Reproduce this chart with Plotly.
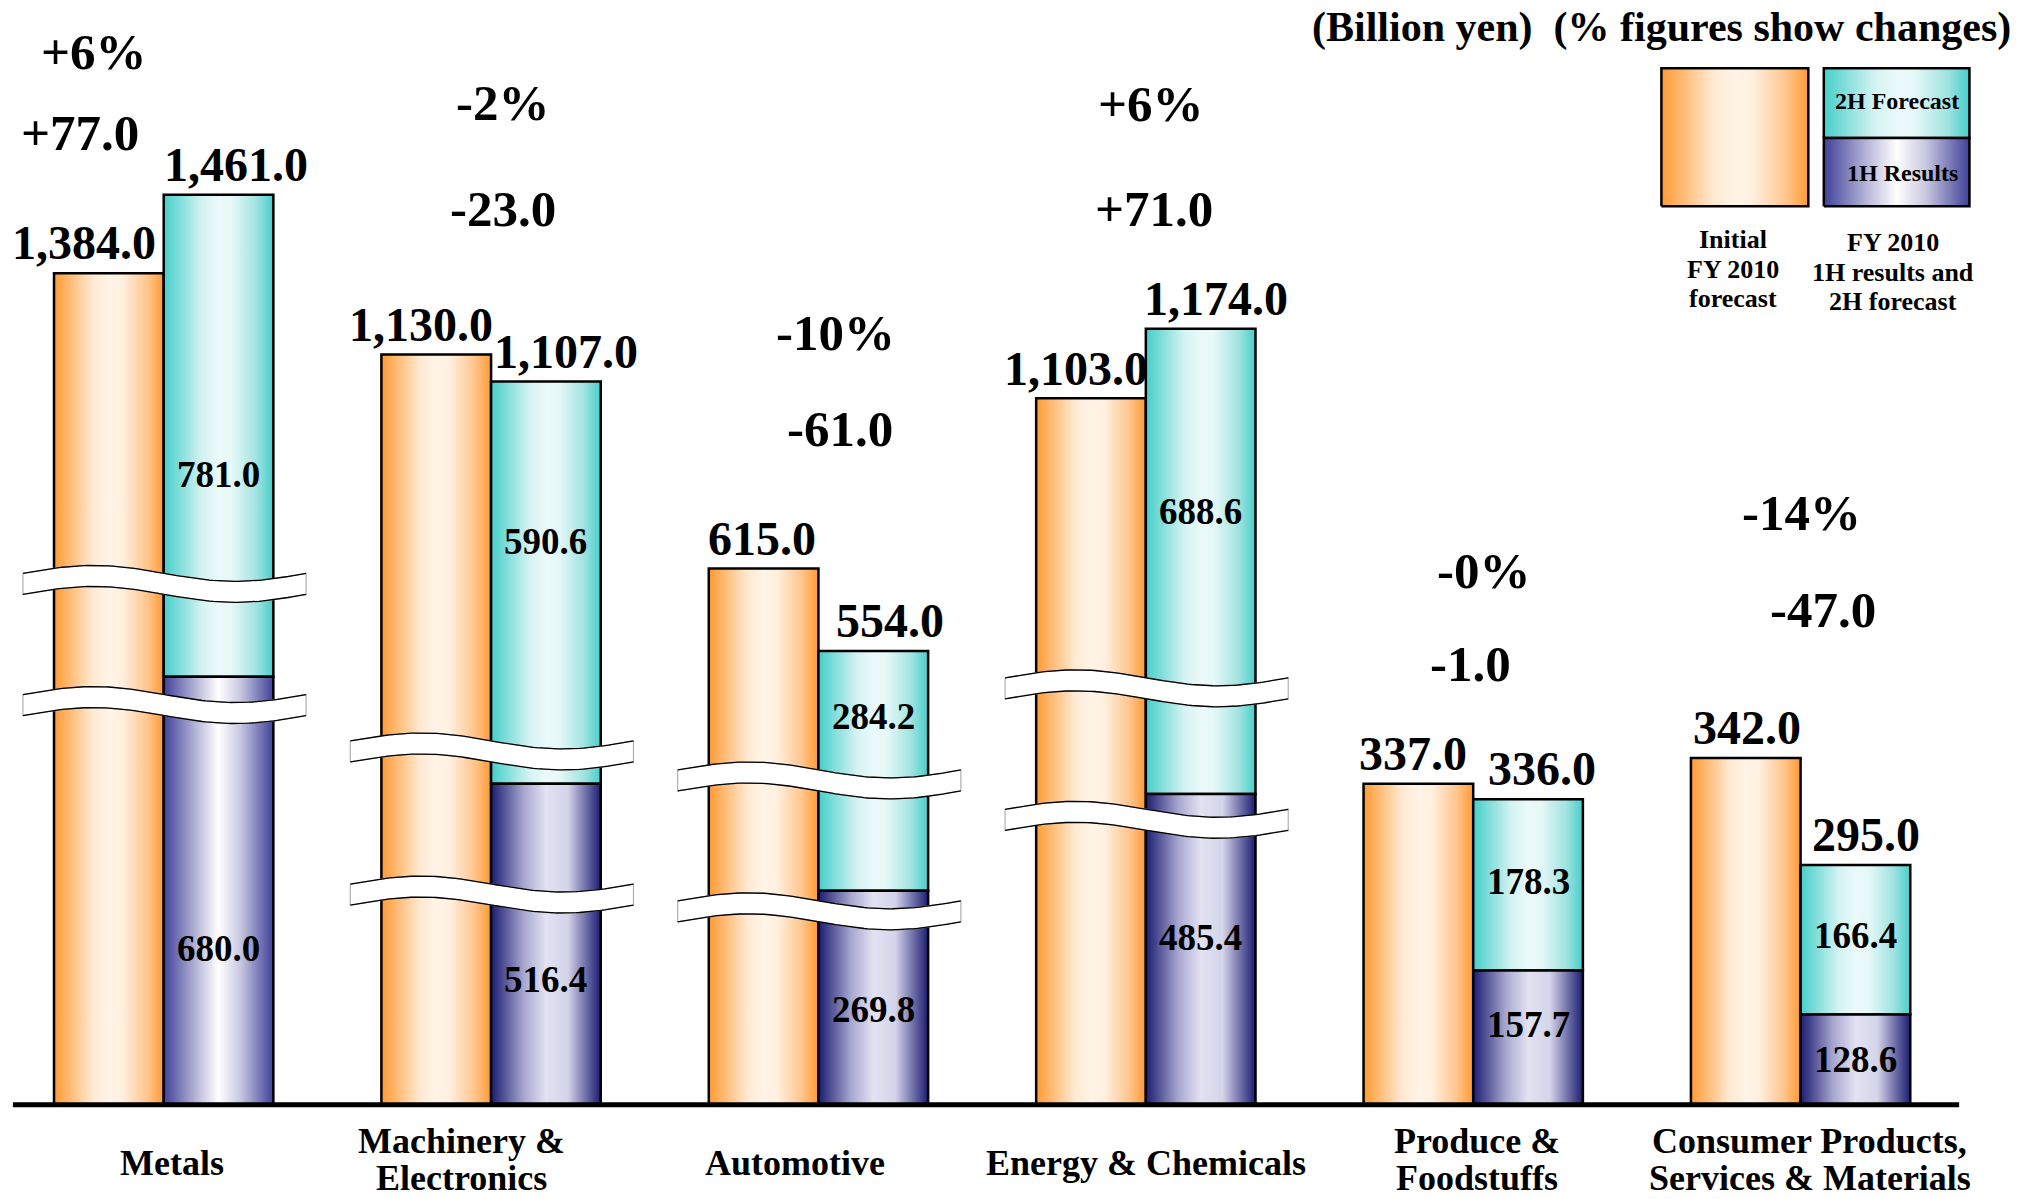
import numpy as np
import plotly.graph_objects as go

# ---------------- data (billion yen) ----------------
categories = [["Metals"], ["Machinery &", "Electronics"], ["Automotive"], ["Energy & Chemicals"],
              ["Produce &", "Foodstuffs"], ["Consumer Products,", "Services & Materials"]]
initial_forecast = [1384.0, 1130.0, 615.0, 1103.0, 337.0, 342.0]
h1_results = [680.0, 516.4, 269.8, 485.4, 157.7, 128.6]
h2_forecast = [781.0, 590.6, 284.2, 688.6, 178.3, 166.4]
fy2010_total = [1461.0, 1107.0, 554.0, 1174.0, 336.0, 295.0]

# broken-axis drawing heights (the chart is not to scale)
disp_initial = [645, 582, 416, 548, 249, 269]
disp_total = [706, 561, 352, 602, 237, 186]
disp_h1 = [332, 249, 166, 241, 104, 70]
break_levels = [[404, 310], [274, 163], [251.5, 150], [323, 221], [], []]

# label placement (drawing units)
pct_pos = [(-0.213, 817), (1.035, 777), (2.051, 599), (3.016, 776), (4.031, 414), (5.004, 459)]
amt_pos = [(-0.256, 754), (1.035, 695), (2.067, 524), (3.024, 695), (3.992, 342), (5.067, 384)]
init_lbl_dx = [-0.244, -0.213, -0.173, -0.213, -0.185, -0.165]
tot_lbl_dx = [0.220, 0.228, 0.217, 0.213, 0.209, 0.201]
h2_lbl_y = [489, 437, 301, 460, 173, 131]
h1_lbl_y = [121, 97, 74, 130, 62, 35]
cat_lbl_x = [0.024, 0.909, 1.929, 3.0, 4.012, 5.028]

# changes
changes = [t - i for t, i in zip(fy2010_total, initial_forecast)]
amt_text = [("+" if c >= 0 else "-") + f"{abs(c):.1f}" for c in changes]
pct_text = [("+" if c >= 0 else "-") + f"{abs(round(c / i * 100))}%" for c, i in zip(changes, initial_forecast)]

ORANGE = [[0, '#FF9A33'], [0.35, '#FFE9D2'], [0.5, '#FFF4E7'], [0.62, '#FFF0E0'], [0.85, '#FFC58C'], [1, '#FF9A33']]
TEAL = [[0, '#46CECA'], [0.35, '#D4F3F2'], [0.5, '#EAF9F9'], [0.62, '#E6F8F8'], [0.85, '#9FE3E0'], [1, '#46CECA']]
NAVY_LIGHT = [[0, '#40409A'], [0.3, '#B8B8D8'], [0.5, '#FFFFFF'], [0.7, '#C8C8E0'], [1, '#40409A']]
NAVY = [[0, '#1C1C72'], [0.3, '#A8A8D0'], [0.5, '#E2E2F2'], [0.7, '#D4D4EA'], [1, '#1C1C72']]

FONT = "Liberation Serif"
W, H = 2021, 1199
BW = 0.335

fig = go.Figure()


def box(x0, x1, y0, y1, cs, lw=2.5):
    fig.add_trace(go.Scatter(
        x=[x0, x1, x1, x0, x0], y=[y0, y0, y1, y1, y0], mode="lines", fill="toself",
        fillgradient=dict(type="horizontal", colorscale=cs),
        line=dict(color="black", width=lw), hoverinfo="skip", showlegend=False))


for i in range(len(categories)):
    box(i - BW, i, 0, disp_initial[i], ORANGE)
    box(i, i + BW, disp_h1[i], disp_total[i], TEAL)
    box(i, i + BW, 0, disp_h1[i], NAVY_LIGHT if i == 0 else NAVY)

# wavy break bands
A, HB = 6.2, 16.3
t = np.linspace(0, 1, 80)
for i, lv in enumerate(break_levels):
    for c in lv:
        xs = i - 0.43 + 0.865 * t
        top = c + HB / 2 + A * np.sin(2 * np.pi * t)
        bot = c - HB / 2 + A * np.sin(2 * np.pi * t)
        fig.add_trace(go.Scatter(x=np.concatenate([xs, xs[::-1], xs[:1]]),
                                 y=np.concatenate([top, bot[::-1], top[:1]]),
                                 mode="lines", fill="toself", fillcolor="white",
                                 line=dict(color="#B0B0B0", width=1.2),
                                 hoverinfo="skip", showlegend=False))
        for yy in (top, bot):
            fig.add_trace(go.Scatter(x=xs, y=yy, mode="lines", line=dict(color="black", width=1.3),
                                     hoverinfo="skip", showlegend=False))

# legend boxes (drawing units)
box((1289 - 127) / 254, (1403 - 127) / 254, 857 - 160, 857 - 53, ORANGE)
box((1415 - 127) / 254, (1528 - 127) / 254, 857 - 107, 857 - 53, TEAL)
box((1415 - 127) / 254, (1528 - 127) / 254, 857 - 160, 857 - 107, NAVY_LIGHT)

ann = []


def txt(x, y, s, size, xref="x", yref="y", xanchor="center", yanchor="middle"):
    ann.append(dict(x=x, y=y, xref=xref, yref=yref, text=s, showarrow=False,
                    xanchor=xanchor, yanchor=yanchor,
                    font=dict(family=FONT, size=size, color="black", weight="bold")))


for i in range(len(categories)):
    txt(pct_pos[i][0], pct_pos[i][1], pct_text[i], 51)
    txt(amt_pos[i][0], amt_pos[i][1], amt_text[i], 51)
    txt(i + init_lbl_dx[i], disp_initial[i] + 23.5, f"{initial_forecast[i]:,.1f}", 48)
    txt(i + tot_lbl_dx[i], disp_total[i] + 23.5, f"{fy2010_total[i]:,.1f}", 48)
    txt(i + BW / 2, h2_lbl_y[i], f"{h2_forecast[i]:,.1f}", 37)
    txt(i + BW / 2, h1_lbl_y[i], f"{h1_results[i]:,.1f}", 37)
    lines = categories[i]
    if len(lines) == 1:
        txt(cat_lbl_x[i], -45, lines[0], 36)
    else:
        txt(cat_lbl_x[i], -28, lines[0], 36)
        txt(cat_lbl_x[i], -57, lines[1], 36)


def P(xf, yf):
    return xf / W, 1 - yf / H


# title
px_, py_ = P(2013, 28)
txt(px_, py_, "(Billion yen)\u00a0\u00a0(% figures show changes)", 42, "paper", "paper", "right")
# legend texts
for s, xf, yf, sz in [("2H Forecast", 1897, 101, 24), ("1H Results", 1902, 173, 24),
                      ("Initial", 1733, 240, 26), ("FY 2010", 1733, 269, 26), ("forecast", 1733, 298, 26),
                      ("FY 2010", 1893, 243, 26), ("1H results and", 1893, 272, 26),
                      ("2H forecast", 1893, 302, 26)]:
    a, b = P(xf, yf)
    txt(a, b, s, sz, "paper", "paper")

fig.update_layout(
    width=W, height=H, margin=dict(l=0, r=0, t=0, b=0),
    paper_bgcolor="white", plot_bgcolor="white", showlegend=False,
    xaxis=dict(range=[-0.5, (1568 - 127) / 254], visible=False, fixedrange=True),
    yaxis=dict(range=[857 - 930.2, 857], visible=False, fixedrange=True),
    annotations=ann,
    shapes=[dict(type="line", xref="x", yref="y", x0=(10 - 127) / 254, x1=(1520 - 127) / 254,
                 y0=0, y1=0, line=dict(color="black", width=5), layer="above")],
)

fig.write_html("out.html")
